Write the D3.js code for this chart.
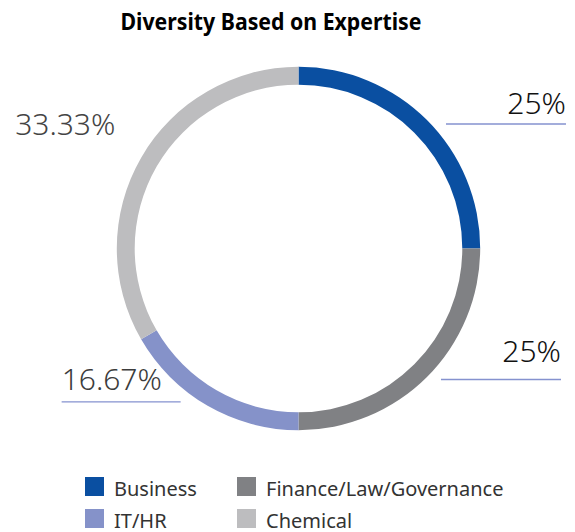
<!DOCTYPE html>
<html><head><meta charset="utf-8">
<script src="https://cdn.jsdelivr.net/npm/d3@7"></script>
<style>body{margin:0;background:#fff}svg{display:block}</style>
</head><body>
<script>
const categories = ["Business", "Finance/Law/Governance", "IT/HR", "Chemical"];
const values = [25, 25, 16.67, 33.33];
const labels = ["25%", "25%", "16.67%", "33.33%"];
const colors = ["#0a4fa1", "#808184", "#8592c9", "#bdbdbf"];
const labelColors = ["#111", "#111", "#3c3c3c", "#444"];
const showLine = [true, true, true, false];

const W = 575, H = 532;
const svg = d3.select("body").append("svg").attr("width", W).attr("height", H);

svg.append("text").attr("x", 271).attr("y", 30).attr("text-anchor", "middle")
  .attr("font-family", "Noto Sans").attr("font-weight", 700).attr("font-size", 23.5)
  .attr("textLength", 301).attr("lengthAdjust", "spacingAndGlyphs")
  .attr("fill", "#000").text("Diversity Based on Expertise");

const cx = 298.5, cy = 248.5, rOut = 181.7, rIn = 163.8;
const data = categories.map((c, i) => ({cat: c, value: values[i], label: labels[i], i}));
const pie = d3.pie().sort(null).value(d => d.value);
const arcs = pie(data);
const arc = d3.arc().innerRadius(rIn).outerRadius(rOut);
const g = svg.append("g").attr("transform", `translate(${cx},${cy})`);
g.selectAll("path").data(arcs).join("path").attr("d", arc).attr("fill", d => colors[d.data.i]);

// labels
const lineLen = 120;
arcs.forEach(a => {
  const mid = (a.startAngle + a.endAngle) / 2;
  const px = Math.sin(mid) * rOut, py = -Math.cos(mid) * rOut;
  const right = px > 0;
  let x0, x1, ly, ty, tx, anchor;
  if (right) {
    x0 = px + (py < 0 ? 19 : 14); x1 = x0 + lineLen; ly = py + (py < 0 ? 4 : 2.5);
    tx = x1; anchor = "end"; ty = ly - (py < 0 ? 10.5 : 17);
  } else {
    x1 = px - 27; x0 = x1 - lineLen + 1; ly = py - 4;
    tx = x0; anchor = "start"; ty = ly - 11.5;
    if (!showLine[a.data.i]) { tx = px - 126; ty = py - 23; }
  }
  if (showLine[a.data.i]) {
    g.append("line").attr("x1", x0).attr("x2", x1).attr("y1", ly).attr("y2", ly)
      .attr("stroke", "#8592cf").attr("stroke-width", 1.3);
  }
  g.append("text").attr("x", tx).attr("y", ty).attr("text-anchor", anchor)
    .attr("font-family", "Noto Sans").attr("font-weight", 300).attr("font-size", 30)
    .attr("fill", labelColors[a.data.i]).text(a.data.label);
});

// legend
const leg = svg.append("g").attr("transform", "translate(85,477)");
const item = leg.selectAll("g").data(data).join("g")
  .attr("transform", (d, i) => `translate(${(i % 2) * 152},${Math.floor(i / 2) * 32})`);
item.append("rect").attr("width", 19).attr("height", 19).attr("fill", d => colors[d.i]);
item.append("text").attr("x", 29).attr("y", 18.5)
  .attr("font-family", "Noto Sans").attr("font-weight", 400).attr("font-size", 20)
  .attr("fill", "#333").text(d => d.cat);
</script>
</body></html>
